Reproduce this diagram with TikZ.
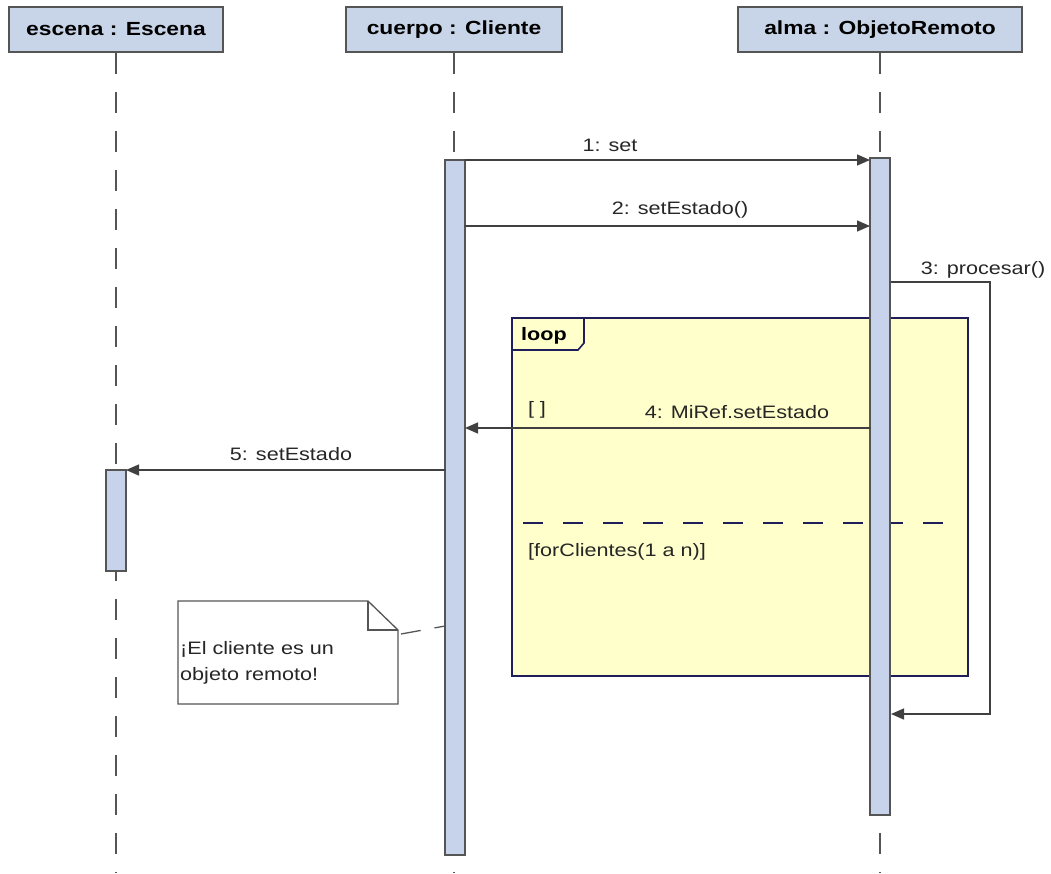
\documentclass[tikz,border=0pt]{standalone}
\usepackage{fontspec}
\setmainfont{Liberation Sans}[FakeStretch=1.2]
\usepackage{tkz-euclide}
\usetikzlibrary{calc}
\usetikzlibrary{positioning}
\usetikzlibrary{arrows.meta}

\definecolor{headfill}{HTML}{C8D4E8}
\definecolor{barfill}{HTML}{C6D3EA}
\definecolor{edgegray}{HTML}{555555}
\definecolor{msggray}{HTML}{404040}
\definecolor{loopfill}{HTML}{FFFFCC}
\definecolor{loopedge}{HTML}{1E1E5A}

\tikzset{
  head/.style={draw=edgegray, line width=1.8pt, fill=headfill, inner sep=0pt,
    minimum height=45pt, font=\fontsize{19}{22}\selectfont\bfseries},
  actbar/.style={draw=edgegray, line width=1.4pt, fill=barfill, inner sep=0pt,
    minimum width=20pt},
  lifeline/.style={draw=edgegray, line width=1.3pt, dash pattern=on 21pt off 18pt},
  msg/.style={draw=msggray, line width=1.4pt, -{Triangle[length=13pt,width=11pt]}},
  msglbl/.style={inner sep=0pt, text=black!85, font=\fontsize{18}{21}\selectfont},
  frame/.style={draw=loopedge, line width=1.6pt}
}

\begin{document}
\begin{tikzpicture}[x=1pt, y=-1pt]
      \useasboundingbox (0,0) rectangle (1051,873);
      \tkzDefPoints{116/873/EE, 454/873/CE, 880/873/AE,
        465/160/C1, 870/160/A1, 465/226/C2, 870/226/A2,
        891/282/A3, 990/282/P1, 990/714/P2, 891/714/A4,
        870/428/A5, 465/428/C5, 445/470/C6, 126/470/E6,
        401/634/N1, 445/626/N2}

      % lifelines
      \node[head, minimum width=214pt] (escena) at (116,29.5) {escena : Escena};
      \node[head, minimum width=216pt] (cuerpo) at (454,29.5) {cuerpo : Cliente};
      \node[head, minimum width=284pt] (alma) at (880,29.5) {alma : ObjetoRemoto};
      \draw[lifeline] (escena.south) -- (EE);
      \draw[lifeline] (cuerpo.south) -- (CE);
      \draw[lifeline] (alma.south) -- (AE);

      % loop fragment
      \draw[frame, fill=loopfill] (512,318) rectangle (968,676);
      \draw[frame] (512,350) -- (578,350) -- (584,343) -- (584,318);
      \node[inner sep=0pt, font=\fontsize{18}{21}\selectfont\bfseries] (loop) at (544,336) {loop};
      \draw[draw=loopedge, line width=1.4pt, dash pattern=on 20pt off 20pt] (523,523) -- (945,523);
      \node[msglbl, anchor=west] (cond) at (528,552) {[forClientes(1 a n)]};
      \node[msglbl] (guard) at (537,410) {[ ]};

      % activations
      \node[actbar, minimum height=695pt] (barC) at (455,507.5) {};
      \node[actbar, minimum height=657pt] (barA) at (880,486.5) {};
      \node[actbar, minimum height=101pt] (barE) at (116,520.5) {};

      % messages
      \tkzDrawSegments[msg](C1,A1 C2,A2 A5,C5 C6,E6)
      \draw[msg] (A3) -- (P1) -- (P2) -- (A4);
      \node[msglbl] (m1) at (610,145) {1: set};
      \node[msglbl] (m2) at (680,210) {2: setEstado()};
      \node[msglbl] (m3) at (983,270) {3: procesar()};
      \node[msglbl] (m4) at (737,412) {4: MiRef.setEstado};
      \node[msglbl] (m5) at (291,454) {5: setEstado};

      % note
      \draw[draw=edgegray, line width=1.3pt, fill=white]
        (178,601) -- (368,601) -- (398,630) -- (398,704) -- (178,704) -- cycle;
      \draw[draw=edgegray, line width=1.3pt] (368,601) -- (368,630) -- (398,630);
      \node[msglbl, anchor=west, align=left, font=\fontsize{18}{26}\selectfont] (remark)
        at (180,663) {¡El cliente es un\\objeto remoto!};
      \draw[draw=edgegray, line width=1.3pt, dash pattern=on 20pt off 14pt] (N1) -- (N2);
\end{tikzpicture}
\end{document}
